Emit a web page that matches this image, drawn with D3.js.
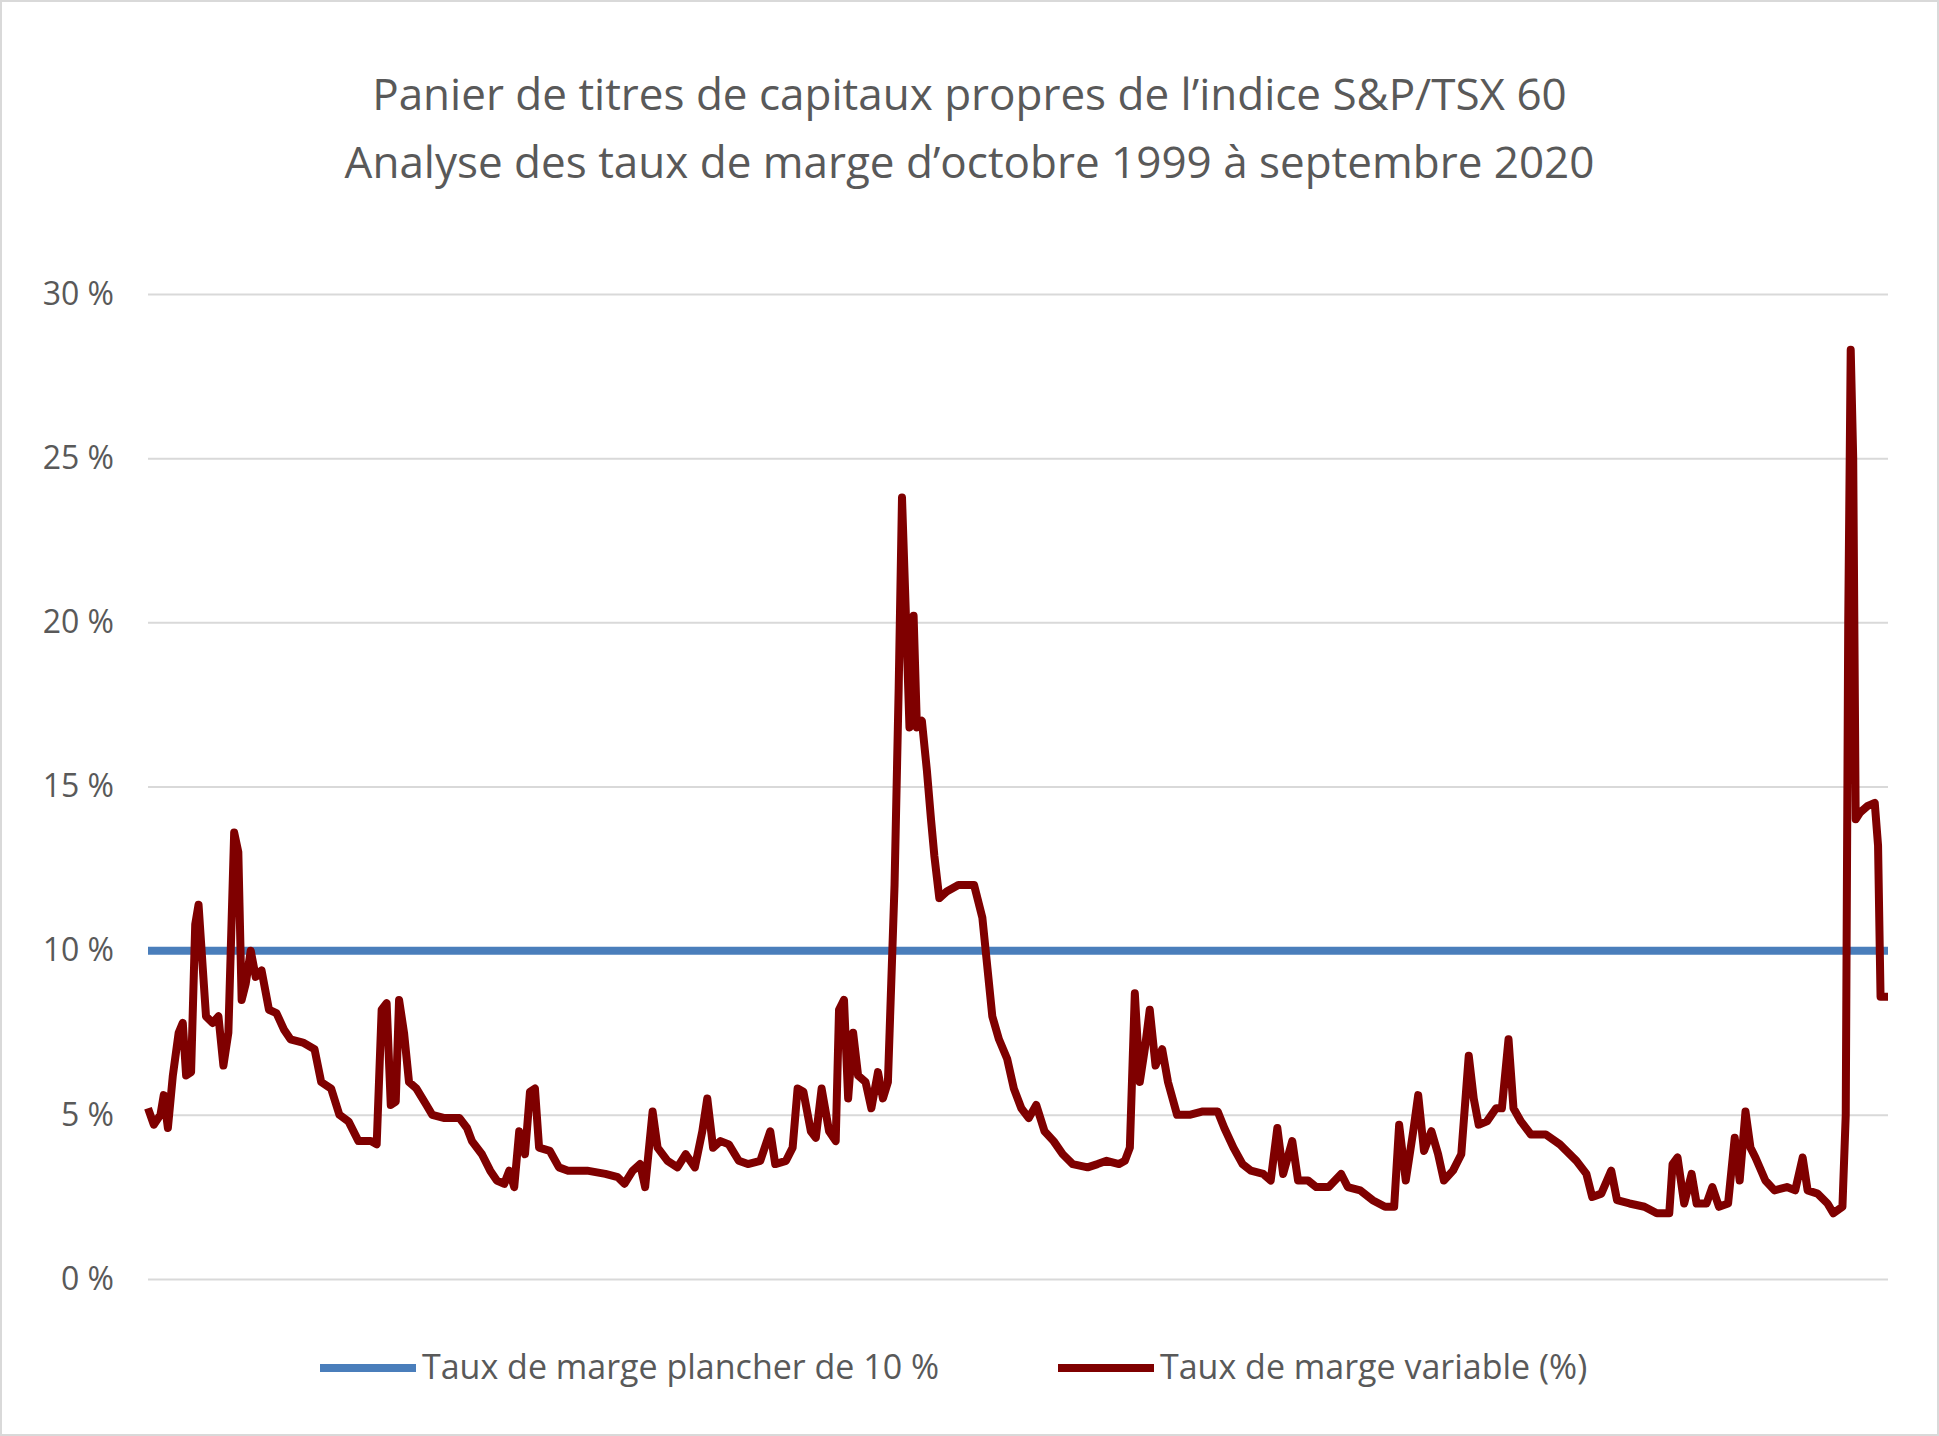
<!DOCTYPE html>
<html><head><meta charset="utf-8">
<script src="https://cdn.jsdelivr.net/npm/d3@7"></script>
<style>body{margin:0;background:#fff}</style>
</head><body>
<svg id="chart" width="1939" height="1436"></svg>
<script>
// Chart data (decimal years, percent)
const titleLines = ["Panier de titres de capitaux propres de l\u2019indice S&P/TSX 60",
  "Analyse des taux de marge d\u2019octobre 1999 \u00e0 septembre 2020"];
const yTicks = [0, 5, 10, 15, 20, 25, 30];
const floorRate = 10;
const seriesNames = ["Taux de marge plancher de 10 %", "Taux de marge variable (%)"];
const years = [1999.75,1999.82,1999.90,1999.94,1999.99,2000.05,2000.12,2000.17,2000.21,2000.27,2000.32,2000.36,2000.41,2000.45,2000.53,2000.60,2000.66,2000.72,2000.79,2000.84,2000.88,2000.93,2000.99,2001.05,2001.12,2001.21,2001.30,2001.39,2001.47,2001.62,2001.76,2001.84,2001.96,2002.06,2002.17,2002.29,2002.44,2002.51,2002.57,2002.63,2002.68,2002.74,2002.78,2002.84,2002.90,2002.99,2003.11,2003.18,2003.33,2003.51,2003.60,2003.66,2003.78,2003.88,2003.96,2004.05,2004.11,2004.17,2004.23,2004.30,2004.36,2004.42,2004.47,2004.60,2004.71,2004.82,2005.05,2005.27,2005.42,2005.50,2005.60,2005.69,2005.75,2005.84,2005.90,2006.02,2006.14,2006.24,2006.35,2006.44,2006.50,2006.57,2006.66,2006.76,2006.88,2006.99,2007.14,2007.26,2007.32,2007.45,2007.53,2007.59,2007.66,2007.75,2007.81,2007.88,2007.97,2008.05,2008.09,2008.15,2008.20,2008.26,2008.32,2008.41,2008.48,2008.56,2008.62,2008.68,2008.72,2008.76,2008.81,2008.85,2008.90,2008.94,2008.99,2009.03,2009.09,2009.15,2009.20,2009.24,2009.30,2009.39,2009.53,2009.72,2009.82,2009.88,2009.94,2010.02,2010.12,2010.20,2010.29,2010.38,2010.47,2010.57,2010.68,2010.79,2010.91,2011.09,2011.21,2011.32,2011.47,2011.54,2011.60,2011.66,2011.72,2011.78,2011.84,2011.91,2011.99,2012.06,2012.17,2012.32,2012.47,2012.66,2012.74,2012.85,2012.96,2013.06,2013.21,2013.30,2013.38,2013.45,2013.56,2013.63,2013.75,2013.85,2014.00,2014.15,2014.23,2014.38,2014.53,2014.68,2014.79,2014.85,2014.93,2015.02,2015.08,2015.15,2015.24,2015.32,2015.39,2015.50,2015.60,2015.69,2015.75,2015.81,2015.91,2016.02,2016.09,2016.17,2016.23,2016.32,2016.44,2016.62,2016.79,2016.99,2017.11,2017.18,2017.29,2017.41,2017.48,2017.63,2017.81,2017.96,2018.11,2018.15,2018.21,2018.29,2018.38,2018.44,2018.56,2018.63,2018.71,2018.82,2018.90,2018.96,2019.03,2019.09,2019.15,2019.27,2019.38,2019.53,2019.63,2019.72,2019.78,2019.90,2020.02,2020.09,2020.20,2020.24,2020.27,2020.30,2020.33,2020.36,2020.41,2020.50,2020.59,2020.63,2020.66,2020.75];
const rates = [5.2,4.7,5.0,5.6,4.6,6.2,7.5,7.8,6.2,6.3,10.8,11.4,9.5,8.0,7.8,8.0,6.5,7.5,13.6,13.0,8.5,9.0,10.0,9.2,9.4,8.2,8.1,7.6,7.3,7.2,7.0,6.0,5.8,5.0,4.8,4.2,4.2,4.1,8.2,8.4,5.3,5.4,8.5,7.5,6.0,5.8,5.3,5.0,4.9,4.9,4.6,4.2,3.8,3.3,3.0,2.9,3.3,2.8,4.5,3.8,5.7,5.8,4.0,3.9,3.4,3.3,3.3,3.2,3.1,2.9,3.3,3.5,2.8,5.1,4.0,3.6,3.4,3.8,3.4,4.5,5.5,4.0,4.2,4.1,3.6,3.5,3.6,4.5,3.5,3.6,4.0,5.8,5.7,4.5,4.3,5.8,4.5,4.2,8.2,8.5,5.5,7.5,6.2,6.0,5.2,6.3,5.5,6.0,9.0,12.0,18.0,23.8,20.0,16.8,20.2,16.8,17.0,15.5,14.0,12.9,11.6,11.8,12.0,12.0,11.0,9.5,8.0,7.3,6.7,5.8,5.2,4.9,5.3,4.5,4.2,3.8,3.5,3.4,3.5,3.6,3.5,3.6,4.0,8.7,6.0,7.0,8.2,6.5,7.0,6.0,5.0,5.0,5.1,5.1,4.6,4.0,3.5,3.3,3.2,3.0,4.6,3.2,4.2,3.0,3.0,2.8,2.8,3.2,2.8,2.7,2.4,2.2,2.2,4.7,3.0,4.5,5.6,3.9,4.5,3.8,3.0,3.3,3.8,6.8,5.5,4.7,4.8,5.2,5.2,7.3,5.2,4.8,4.4,4.4,4.1,3.6,3.2,2.5,2.6,3.3,2.4,2.3,2.2,2.0,2.0,3.5,3.7,2.3,3.2,2.3,2.3,2.8,2.2,2.3,4.3,3.0,5.1,4.0,3.7,3.0,2.7,2.8,2.7,3.7,2.7,2.6,2.3,2.0,2.2,5.0,20.0,28.3,25.0,14.0,14.2,14.4,14.5,13.2,8.6,8.6];

const svg = d3.select("#chart");
const W = 1939, H = 1436;
const margin = {left: 148, right: 51, top: 294, bottom: 157};

svg.append("rect").attr("x", 1).attr("y", 1).attr("width", W - 2).attr("height", H - 2)
  .attr("fill", "#fff").attr("stroke", "#d9d9d9").attr("stroke-width", 2);

const x = d3.scaleLinear().domain([1999.75, 2020.75]).range([margin.left, W - margin.right]);
const y = d3.scaleLinear().domain([0, 30]).range([H - margin.bottom, margin.top]);

// title
svg.append("g").selectAll("text").data(titleLines).join("text")
  .attr("x", W / 2).attr("y", (d, i) => 110 + i * 68)
  .attr("text-anchor", "middle")
  .style("font-family", "'Open Sans', 'Noto Sans', sans-serif")
  .style("font-size", "44px").style("fill", "#595959")
  .text(d => d);

// gridlines + y labels
const yAxis = d3.axisLeft(y).tickValues(yTicks).tickSize(-(W - margin.left - margin.right))
  .tickFormat(d => d + " %").tickPadding(34);
const ga = svg.append("g").attr("transform", `translate(${margin.left},0)`).call(yAxis);
ga.select(".domain").remove();
ga.selectAll("line").attr("stroke", "#d9d9d9").attr("stroke-width", 2);
ga.selectAll("text").style("font-family", "'Open Sans', 'Noto Sans', sans-serif")
  .style("font-size", "32px").style("fill", "#595959");

// floor line
svg.append("line")
  .attr("x1", x(1999.75)).attr("x2", x(2020.75))
  .attr("y1", y(floorRate)).attr("y2", y(floorRate))
  .attr("stroke", "#4a7ebb").attr("stroke-width", 8);

// variable rate line
const line = d3.line().x((d, i) => x(years[i])).y(d => y(d));
svg.append("path").datum(rates)
  .attr("d", line).attr("fill", "none")
  .attr("stroke", "#7f0000").attr("stroke-width", 8).attr("stroke-linejoin", "round");

// legend
const legendColors = ["#4a7ebb", "#7f0000"];
const legendX = [320, 1058];
const lg = svg.append("g").selectAll("g").data(seriesNames).join("g")
  .attr("transform", (d, i) => `translate(${legendX[i]},1368)`);
lg.append("line").attr("x1", 0).attr("x2", 96).attr("y1", 0).attr("y2", 0)
  .attr("stroke", (d, i) => legendColors[i]).attr("stroke-width", 8);
lg.append("text").attr("x", 102).attr("y", 11)
  .style("font-family", "'Open Sans', 'Noto Sans', sans-serif")
  .style("font-size", "34px").style("fill", "#595959")
  .text(d => d);
</script>
</body></html>
